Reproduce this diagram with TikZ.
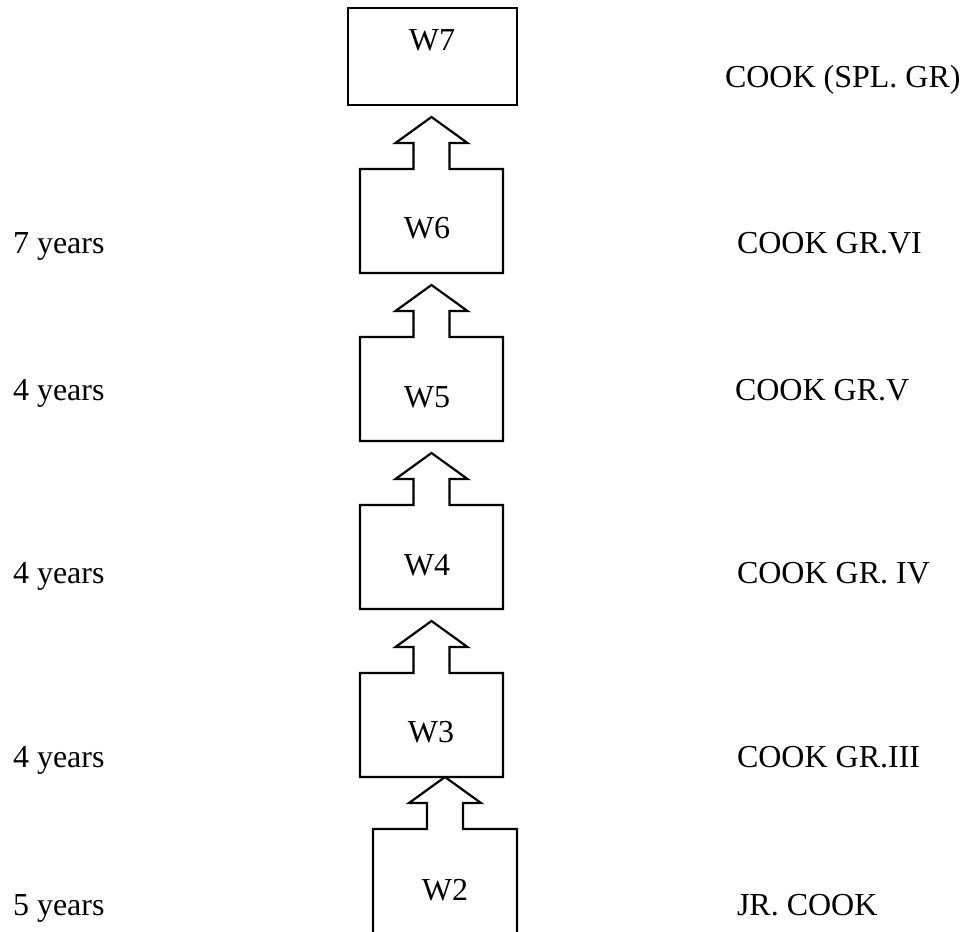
\documentclass[tikz,border=0pt]{standalone}
\usepackage{fontspec}
\setmainfont{Liberation Serif}

\begin{document}
\begin{tikzpicture}[x=0.5pt, y=-0.5pt, line width=1.1pt,
  every node/.style = {inner sep=0pt, outer sep=0pt,
    font=\fontsize{16}{19}\selectfont},
  rung/.style = {minimum width=71.5pt, minimum height=52pt}]
  \useasboundingbox (0,0) rectangle (966,932);
  % top grade
  \node [draw, minimum width=84.5pt, minimum height=48.5pt] (w7) at (432.5,56.5) {};
  \node [anchor=base] (t7) at (432,50) {W7};
  % grades with an arrow on top
  \foreach \k/\y/\b/\tx in {6/221/238/427, 5/389/407/427, 4/557/575/427, 3/725/742/431} {
    \node [rung] (w\k) at (431.5,\y) {};
    \node [anchor=base] (t\k) at (\tx,\b) {W\k};
    \draw (w\k.south west) -- (w\k.north west) -- ([xshift=-9pt]w\k.north)
      -- ++(0,-26) -- ++(-18,0) -- ++(36,-26) -- ++(36,26) -- ++(-18,0)
      -- ++(0,26) -- (w\k.north east) -- (w\k.south east) -- cycle;
  }
  % entry grade, open at the bottom
  \node [rung, minimum width=72pt] (w2) at (445,881) {};
  \node [anchor=base] (t2) at (445,900) {W2};
  \draw (w2.south west) -- (w2.north west) -- ([xshift=-9pt]w2.north)
    -- ++(0,-26) -- ++(-18,0) -- ++(36,-26) -- ++(36,26) -- ++(-18,0)
    -- ++(0,26) -- (w2.north east) -- (w2.south east);
  % years
  \node [anchor=base west] (y6) at (13,253) {7 years};
  \node [anchor=base west] (y5) at (13,400) {4 years};
  \node [anchor=base west] (y4) at (13,583) {4 years};
  \node [anchor=base west] (y3) at (13,767) {4 years};
  \node [anchor=base west] (y2) at (13,915) {5 years};
  % posts
  \node [anchor=base west] (p7) at (725,87) {COOK (SPL. GR)};
  \node [anchor=base west] (p6) at (737,253) {COOK GR.VI};
  \node [anchor=base west] (p5) at (735,400) {COOK GR.V};
  \node [anchor=base west] (p4) at (737,583) {COOK GR. IV};
  \node [anchor=base west] (p3) at (737,767) {COOK GR.III};
  \node [anchor=base west] (p2) at (737,915) {JR. COOK};
\end{tikzpicture}
\end{document}
